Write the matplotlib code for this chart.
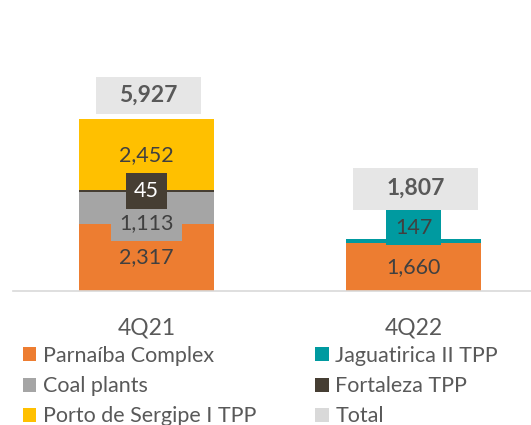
import numpy as np
import matplotlib.pyplot as plt
from matplotlib.path import Path

plt.rcParams['font.family'] = ['Lato', 'DejaVu Sans']

quarters = ['4Q21', '4Q22']
series = ['Parnaíba Complex', 'Coal plants', 'Jaguatirica II TPP', 'Fortaleza TPP', 'Porto de Sergipe I TPP']
values = {
    'Parnaíba Complex': [2317, 1660],
    'Coal plants': [1113, 0],
    'Jaguatirica II TPP': [0, 147],
    'Fortaleza TPP': [45, 0],
    'Porto de Sergipe I TPP': [2452, 0],
}
totals = [5927, 1807]

colors = {
    'Parnaíba Complex': '#ED7D31',
    'Coal plants': '#A5A5A5',
    'Jaguatirica II TPP': '#009AA0',
    'Fortaleza TPP': '#463E33',
    'Porto de Sergipe I TPP': '#FFC000',
}
total_color = '#E6E6E6'
txt = '#404040'
fs = 15.5


def padded_box(hx, vy):
    # rectangle box with separate horizontal / vertical padding
    def style(x0, y0, width, height, mutation_size):
        k = mutation_size / fs
        px = hx * k
        py = vy * k
        x0, y0 = x0 - px, y0 - py
        x1, y1 = x0 + width + 2 * px, y0 + height + 2 * py
        return Path([(x0, y0), (x1, y0), (x1, y1), (x0, y1), (x0, y0)], closed=True)
    return style


fig = plt.figure(figsize=(5.31, 4.25), dpi=100)
ax = fig.add_axes([13 / 531, 1 - 291 / 425, 518 / 531, 291 / 425])

x = np.arange(len(quarters))
w = 0.505
bottom = np.zeros(len(quarters))
# label styling per series: (box colour, text colour, vertical offset in points)
lab = {
    'Parnaíba Complex': (None, txt, 0),
    'Coal plants': ('#A5A5A5', txt, -11),
    'Jaguatirica II TPP': ('#009AA0', txt, 9.5),
    'Fortaleza TPP': ('#463E33', 'white', 0),
    'Porto de Sergipe I TPP': (None, txt, 0),
}
zo = {'Parnaíba Complex': 5, 'Coal plants': 6, 'Jaguatirica II TPP': 6, 'Fortaleza TPP': 7, 'Porto de Sergipe I TPP': 5}
for s in series:
    v = np.array(values[s], dtype=float)
    ax.bar(x, v, w, bottom=bottom, color=colors[s], zorder=2)
    box, tc, off = lab[s]
    for i in range(len(x)):
        if v[i] > 0:
            kw = {}
            if box is not None:
                kw['bbox'] = dict(boxstyle=padded_box(6.0, 5.5), fc=box, ec='none')
            ax.annotate(f'{int(v[i]):,}', (x[i], bottom[i] + v[i] / 2), xytext=(0, off),
                        textcoords='offset points', ha='center', va='center',
                        fontsize=fs, color=tc, zorder=zo[s], **kw)
    bottom += v

tot_off = [17, 36]
tot_pad = [(15.5, 5.5), (22.5, 7)]
for i in range(len(x)):
    ax.annotate(f'{totals[i]:,}', (x[i], totals[i]), xytext=(1.5, tot_off[i]),
                textcoords='offset points', ha='center', va='center',
                fontsize=16.5, fontweight='bold', color='#595959', zorder=8,
                bbox=dict(boxstyle=padded_box(*tot_pad[i]), fc=total_color, ec='none'))

ax.set_xlim(-0.5, 1.44)
ax.set_ylim(0, 10045)
for sp in ['top', 'right', 'left']:
    ax.spines[sp].set_visible(False)
ax.spines['bottom'].set_color('#D9D9D9')
ax.spines['bottom'].set_linewidth(1.2)
ax.set_yticks([])
ax.set_xticks(x)
ax.set_xticklabels(quarters, fontsize=16.5, color='#595959')
ax.tick_params(axis='x', length=0, pad=19)

handles = [plt.Rectangle((0, 0), 1, 1, fc=colors[s], ec='none') for s in
           ['Parnaíba Complex', 'Coal plants', 'Porto de Sergipe I TPP', 'Jaguatirica II TPP', 'Fortaleza TPP']]
handles.append(plt.Rectangle((0, 0), 1, 1, fc='#D9D9D9', ec='none'))
labels = ['Parnaíba Complex', 'Coal plants', 'Porto de Sergipe I TPP', 'Jaguatirica II TPP', 'Fortaleza TPP', 'Total']
leg = fig.legend(handles, labels, loc='upper left', bbox_to_anchor=(23 / 531, 1 - 346 / 425), ncol=2,
                 frameon=False, fontsize=fs, labelcolor='#595959', handlelength=0.62, handleheight=0.62,
                 handletextpad=0.3, columnspacing=2.75, labelspacing=0.47, borderpad=0, borderaxespad=0)

fig.savefig('out.png', dpi=100)
